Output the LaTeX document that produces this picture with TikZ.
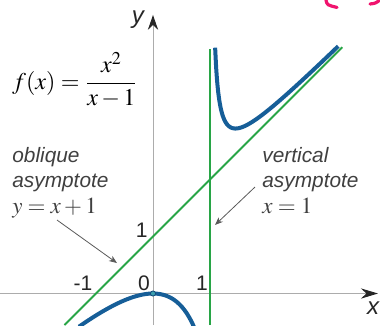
\documentclass[tikz,border=0pt]{standalone}
\usepackage{amsmath}
\usepackage{mathptmx}
\usepackage{fontspec}
\newfontfamily\arialfont{Liberation Sans}
\usetikzlibrary{arrows.meta}

\begin{document}
\begin{tikzpicture}[x=1cm,y=1cm,>=Stealth,
    axisline/.style={gray!65,line width=0.5pt},
    asym/.style={asymgreen,line width=0.9pt},
    branch/.style={fblue,line width=2pt,smooth,samples=120},
    note/.style={font=\arialfont\itshape\fontsize{10.4}{12}\selectfont,text=black!75,anchor=base west,inner sep=0pt},
    mathnote/.style={font=\fontsize{11.5}{13}\selectfont},
    tick/.style={font=\arialfont\fontsize{10.5}{12}\selectfont,text=black!85,inner sep=0pt,anchor=base},
    pointer/.style={-{Stealth[length=1.4mm,width=1.1mm]},black!65,line width=0.4pt}]
            \definecolor{fblue}{RGB}{22,94,152}
            \definecolor{asymgreen}{RGB}{40,165,70}
            \definecolor{dotteal}{RGB}{60,160,175}
            \definecolor{scribble}{RGB}{240,20,110}
            \useasboundingbox (-2.684,-0.553) rectangle (3.982,5.149);
            \begin{scope}
            \clip (-2.684,-0.553) rectangle (3.982,5.149);
            % axes
            \coordinate (xstart) at (-2.684,0);
            \coordinate (xtip) at (3.947,0);
            \coordinate (ystart) at (0,-0.553);
            \coordinate (ytip) at (0,4.886);
            \draw[axisline,-{Stealth[length=3mm,width=1.8mm,color=black!85]}] (xstart) -- (xtip);
            \draw[axisline,-{Stealth[length=2.6mm,width=1.8mm,color=black!85]}] (ystart) -- (ytip);
            \node[font=\arialfont\itshape\fontsize{12}{14}\selectfont,text=black!85] (xlab) at (3.86,-0.254) {x};
            \node[font=\arialfont\itshape\fontsize{12}{14}\selectfont,text=black!85] (ylab) at (-0.263,4.798) {y};
            % asymptotes
            \draw[asym] (-1.553,-0.553) -- (3.32,4.32);
            \draw[asym] (1,-0.553) -- (1,4.289);
            % the two branches
            \draw[branch,domain=1.09:3.25] plot (\x,{\x+1+0.2/(\x-1)});
            \draw[branch,domain=-1.3:0.75] plot (\x,{\x*\x/(\x-1.6)});
            \node[circle,fill=dotteal,draw=fblue!80!black,line width=0.4pt,inner sep=0pt,minimum size=0.09cm] (origin) at (0,0) {};
            % pen marks
            \draw[scribble,line width=1.6pt,line cap=round] (3.035,5.149) .. controls (3.053,5.061) .. (3.228,5.018);
            \draw[scribble,line width=1.6pt,line cap=round] (3.807,5.079) .. controls (3.9,5.09) .. (3.982,5.149);
            \end{scope}
            % labels
            \node[font=\fontsize{12}{14}\selectfont,anchor=west,inner sep=0pt] (formula) at (-2.474,3.746) {$\displaystyle f(x)=\frac{x^2}{x-1}$};
            \node[note] (obl1) at (-2.474,2.307) {oblique};
            \node[note] (obl2) at (-2.474,1.868) {asymptote};
            \node[note,mathnote] (obl3) at (-2.474,1.412) {$y=x+1$};
            \node[note] (ver1) at (1.912,2.307) {vertical};
            \node[note] (ver2) at (1.912,1.868) {asymptote};
            \node[note,mathnote] (ver3) at (1.912,1.412) {$x=1$};
            \coordinate (oblfrom) at (-1.684,1.289);
            \coordinate (oblto) at (-0.632,0.535);
            \coordinate (verfrom) at (1.789,1.868);
            \coordinate (verto) at (1.088,1.202);
            \draw[pointer] (oblfrom) -- (oblto);
            \draw[pointer] (verfrom) -- (verto);
            % numbers
            \node[tick,anchor=base east] (yone) at (-0.088,0.991) {1};
            \node[tick] (xminus) at (-1.228,0.061) {-1};
            \node[tick] (xzero) at (-0.158,0.061) {0};
            \node[tick] (xone) at (0.86,0.061) {1};
        \end{tikzpicture}
\end{document}
